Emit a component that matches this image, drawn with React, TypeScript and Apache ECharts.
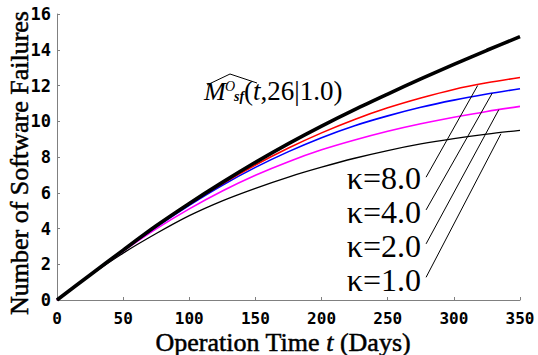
import React, { useEffect, useRef } from "react";
import * as echarts from "echarts";

const tDays = [0, 25, 50, 75, 100, 125, 150, 175, 200, 225, 250, 275, 300, 325, 350];
const mHat = [0, 1.4, 2.79, 4.15, 5.4, 6.58, 7.7, 8.75, 9.73, 10.65, 11.52, 12.37, 13.18, 13.97, 14.73];
const kappa8 = [0, 1.4, 2.78, 4.11, 5.36, 6.5, 7.55, 8.5, 9.35, 10.1, 10.75, 11.3, 11.78, 12.15, 12.45];
const kappa4 = [0, 1.4, 2.77, 4.08, 5.3, 6.42, 7.42, 8.3, 9.08, 9.75, 10.3, 10.78, 11.18, 11.52, 11.82];
const kappa2 = [0, 1.39, 2.73, 3.98, 5.1, 6.1, 6.98, 7.74, 8.4, 8.95, 9.44, 9.86, 10.22, 10.55, 10.83];
const kappa1 = [0, 1.37, 2.62, 3.72, 4.72, 5.55, 6.25, 6.88, 7.43, 7.93, 8.36, 8.73, 9.03, 9.28, 9.49];

const kappaLabels = ["κ=8.0", "κ=4.0", "κ=2.0", "κ=1.0"];
// leader lines: [from (t, value), to (t, value)]
const leaderFrom = [[279, 6.87], [279, 5.04], [279, 3.14], [279, 1.27]];
const leaderTo = [[318, 12.0], [329, 11.57], [334, 10.65], [335.6, 9.3]];

const xTicks = { min: 0, max: 350, interval: 50 };
const yTicks = { min: 0, max: 16, interval: 2 };

const serif = "'Liberation Serif', 'Times New Roman', serif";
const mono = "'DejaVu Sans Mono', monospace";

export default function App() {
  const ref = useRef<HTMLDivElement>(null);
  useEffect(() => {
    const chart = echarts.init(ref.current!, null, { renderer: "svg" });
    const pair = (arr: number[]) => tDays.map((t, i) => [t, arr[i]]);
    const axisColor = "#808080";
    const labelTop = [178, 212, 246, 280];
    const line = (arr: number[], color: string, width: number, z: number) => ({
      type: "line",
      data: pair(arr),
      smooth: 0.3,
      symbol: "none",
      lineStyle: { color, width },
      z,
    });
    chart.setOption({
      animation: false,
      backgroundColor: "#ffffff",
      grid: { left: 57, right: 18, top: 14, bottom: 55 },
      xAxis: {
        type: "value",
        ...xTicks,
        axisLine: { show: true, lineStyle: { color: axisColor, width: 1 } },
        axisTick: { show: true, inside: true, length: 3, lineStyle: { color: axisColor } },
        axisLabel: { color: "#000", fontFamily: mono, fontWeight: "bold", fontSize: 16, margin: 10, lineHeight: 16 },
        splitLine: { show: false },
      },
      yAxis: {
        type: "value",
        ...yTicks,
        axisLine: { show: true, lineStyle: { color: axisColor, width: 1 } },
        axisTick: { show: true, inside: true, length: 3, lineStyle: { color: axisColor } },
        axisLabel: { color: "#000", fontFamily: mono, fontWeight: "bold", fontSize: 17, margin: 6 },
        splitLine: { show: false },
      },
      series: [
        line(kappa1, "#000", 1.3, 2),
        line(kappa2, "#ff00ff", 1.6, 2),
        line(kappa4, "#0000ff", 1.6, 2),
        line(kappa8, "#ff0000", 1.6, 2),
        line(mHat, "#000", 3.6, 3),
        {
          type: "line",
          data: [],
          markLine: {
            silent: true,
            symbol: ["none", "none"],
            label: { show: false },
            lineStyle: { color: "#000", width: 1, type: "solid" },
            data: leaderFrom.map((f, i) => [{ coord: f }, { coord: leaderTo[i] }]),
          },
        },
      ],
      graphic: [
        {
          type: "text",
          x: 19,
          y: 163,
          rotation: Math.PI / 2,
          style: {
            text: "Number of Software Failures",
            font: `26px ${serif}`,
            fill: "#000",
            stroke: "#000",
            lineWidth: 0.5,
            align: "center",
            verticalAlign: "middle",
          },
        },
        {
          type: "text",
          x: 283,
          y: 342,
          style: {
            text: "{n|Operation Time }{i|t}{n| (Days)}",
            align: "center",
            verticalAlign: "middle",
            rich: {
              n: { font: `26px ${serif}`, fill: "#000", stroke: "#000", lineWidth: 0.5, lineHeight: 22 },
              i: { font: `italic 26px ${serif}`, fill: "#000", stroke: "#000", lineWidth: 0.5, lineHeight: 22 },
            },
          },
        },
        ...kappaLabels.map((s, i) => ({
          type: "text",
          x: 421,
          y: labelTop[i],
          style: { text: s, font: `32px ${serif}`, fill: "#000", align: "right", verticalAlign: "middle" },
        })),
        { type: "text", x: 204, y: 91, style: { text: "M", font: `italic 26px ${serif}`, fill: "#000", verticalAlign: "middle" } },
        { type: "text", x: 225, y: 86, style: { text: "O", font: `italic 14px ${serif}`, fill: "#000", verticalAlign: "middle" } },
        { type: "text", x: 234, y: 96, style: { text: "sf", font: `italic bold 14px ${serif}`, fill: "#000", verticalAlign: "middle" } },
        {
          type: "text",
          x: 244,
          y: 91,
          style: {
            text: "{n|(}{i|t}{n|,26|1.0)}",
            verticalAlign: "middle",
            rich: {
              n: { font: `27px ${serif}`, fill: "#000" },
              i: { font: `italic 27px ${serif}`, fill: "#000" },
            },
          },
        },
        {
          type: "polyline",
          shape: { points: [[207, 85], [230, 74], [257, 83]] },
          style: { stroke: "#000", lineWidth: 1, fill: "none" },
        },
      ],
    });
    return () => chart.dispose();
  }, []);
  return <div ref={ref} style={{ width: 538, height: 355, position: "absolute", left: 0, top: 0 }} />;
}
